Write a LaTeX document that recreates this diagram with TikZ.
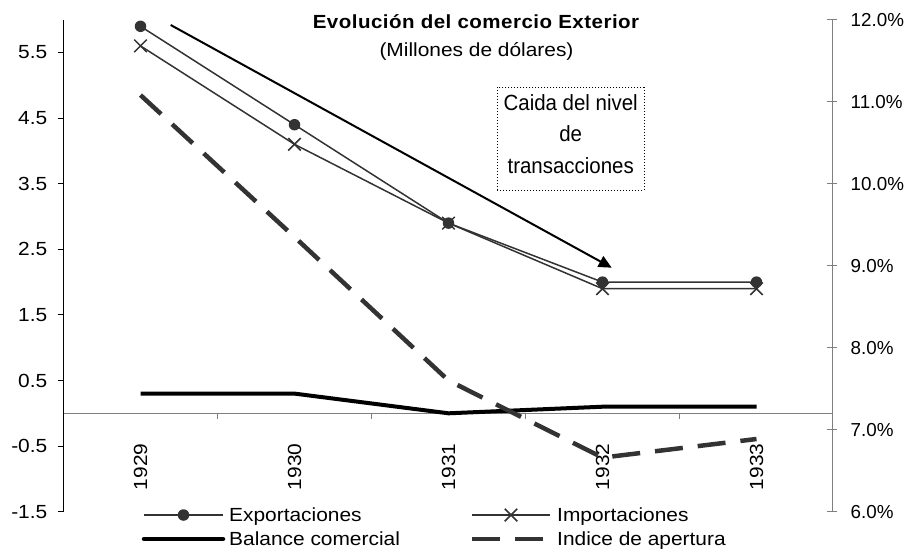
\documentclass[tikz,border=0pt]{standalone}
\usepackage{fontspec}
\setmainfont{Liberation Sans}[FakeStretch=1.1]
\newfontfamily\plainfont{Liberation Sans}
\newfontfamily\boxfont{Liberation Sans}[FakeStretch=0.93]
\newfontfamily\titlefont{Liberation Sans}[FakeStretch=1.08,LetterSpace=2.5]
\usetikzlibrary{arrows.meta,shapes.misc}
\definecolor{ser}{HTML}{333333}
\definecolor{axgray}{HTML}{7F7F7F}
\begin{document}
\begin{tikzpicture}[x=1pt,y=-1pt,
  lab/.style={font=\fontsize{19}{22}\selectfont, inner sep=0pt},
  rlab/.style={font=\plainfont\fontsize{18.8}{22}\selectfont, inner sep=0pt, anchor=west},
  axisdark/.style={draw=black, line width=1pt},
  axislight/.style={draw=axgray, line width=1pt},
  serline/.style={draw=ser, line width=1.5pt},
  balline/.style={draw=black, line width=4pt, line join=round},
  idxline/.style={draw=ser, line width=4.5pt, dash pattern=on 28pt off 15pt},
  dotmark/.style={circle, fill=ser, inner sep=0pt, minimum size=11.5pt},
  xmark/.style={cross out, draw=ser, line width=1.5pt, inner sep=0pt, minimum size=11pt},
  arrowline/.style={draw=black, line width=2pt, -{Triangle[length=13pt,width=12pt]}},
  notebox/.style={draw=black, dotted, line width=1pt, minimum width=146.7pt, minimum height=102.7pt, align=center, inner sep=0pt, font=\boxfont\fontsize{22}{31.7}\selectfont}
]
\useasboundingbox (0,0) rectangle (912,552);

% axes
\coordinate (ltop) at (63.3,19.7);
\coordinate (lbot) at (63.3,511.7);
\coordinate (xl) at (63.3,413.3);
\coordinate (xr) at (832.3,413.3);
\coordinate (rtop) at (832.3,19.7);
\coordinate (rbot) at (832.3,511.7);
\draw[axislight] (xl) -- (xr);
\draw[axisdark] (ltop) -- (lbot);
\draw[axislight] (rtop) -- (rbot);

% left ticks and labels
\foreach \v/\y/\n in {5.5/52.5/a,4.5/118.1/b,3.5/183.7/c,2.5/249.3/d,1.5/314.9/e,0.5/380.5/f,-0.5/446.1/g,-1.5/511.7/h}{
  \draw[axisdark] (57.7,\y) -- (63.3,\y);
  \node[lab, anchor=east] (yl\n) at (47.5,\y) {\v};
}
% right ticks and labels
\foreach \v/\y/\n in {12.0\%/19.7/a,11.0\%/101.7/b,10.0\%/183.7/c,9.0\%/265.7/d,8.0\%/347.7/e,7.0\%/429.7/f,6.0\%/511.7/g}{
  \draw[axislight] (827.3,\y) -- (836.7,\y);
  \node[rlab] (rl\n) at (850.5,\y) {\v};
}
% category ticks
\foreach \x in {217.5,371.5,525.5,679.5}{
  \draw[axislight] (\x,413.3) -- (\x,418.5);
}
% year labels
\foreach \yr/\x in {1929/140.5,1930/294.5,1931/448.5,1932/602.5,1933/756.5}{
  \node[lab, rotate=90, anchor=east] (yr\yr) at (\x,443.5) {\yr};
}

% data points
\coordinate (e1) at (140.5,26.3);
\coordinate (e2) at (294.5,124.7);
\coordinate (e3) at (448.5,223.1);
\coordinate (e4) at (602.5,282.1);
\coordinate (e5) at (756.5,282.1);
\coordinate (i1) at (140.5,45.9);
\coordinate (i2) at (294.5,144.3);
\coordinate (i3) at (448.5,223.1);
\coordinate (i4) at (602.5,288.7);
\coordinate (i5) at (756.5,288.7);
\coordinate (b1) at (140.5,393.6);
\coordinate (b2) at (294.5,393.6);
\coordinate (b3) at (448.5,413.3);
\coordinate (b4) at (602.5,406.7);
\coordinate (b5) at (756.5,406.7);
\coordinate (d1) at (140.5,95.1);
\coordinate (d2) at (294.5,237.0);
\coordinate (d3) at (448.5,380.5);
\coordinate (d4) at (602.5,457.6);
\coordinate (d5) at (756.5,439.0);

% series
\draw[serline] (e1) -- (e2) -- (e3) -- (e4) -- (e5);
\foreach \k in {1,...,5}{ \node[dotmark] (em\k) at (e\k) {}; }
\draw[serline] (i1) -- (i2) -- (i3) -- (i4) -- (i5);
\foreach \k in {1,...,5}{ \node[xmark] (im\k) at (i\k) {}; }
\draw[balline] (b1) -- (b2) -- (b3) -- (b4) -- (b5);
\draw[idxline] (d1) -- (d2) -- (d3) -- (d4) -- (d5);

% title
\node[inner sep=0pt, anchor=base, font=\titlefont\bfseries\fontsize{19}{22}\selectfont] (title) at (476,28.3) {Evolución del comercio Exterior};
\node[lab, anchor=base] (subtitle) at (476.5,56) {(Millones de dólares)};

% note box and arrow
\node[notebox] (note) at (570.7,138.7) {Caida del nivel\\de\\transacciones\strut};
\coordinate (a0) at (170.7,25);
\coordinate (a1) at (611.7,267.7);
\draw[arrowline] (a0) -- (a1);

% legend
\coordinate (l1a) at (144,515); \coordinate (l1b) at (223,515);
\draw[serline] (l1a) -- (l1b);
\node[dotmark] (lm1) at (183.5,515) {};
\node[lab, anchor=base west] (lt1) at (229,521.7) {Exportaciones};
\coordinate (l2a) at (472,515); \coordinate (l2b) at (550,515);
\draw[serline] (l2a) -- (l2b);
\node[xmark] (lm2) at (511,515) {};
\node[lab, anchor=base west] (lt2) at (557,521.7) {Importaciones};
\coordinate (l3a) at (144,539); \coordinate (l3b) at (223,539);
\draw[balline, line width=4.5pt, line cap=round] (l3a) -- (l3b);
\node[lab, anchor=base west] (lt3) at (229,545.7) {Balance comercial};
\coordinate (l4a) at (472,539); \coordinate (l4b) at (543,539);
\draw[idxline] (l4a) -- (l4b);
\node[lab, anchor=base west] (lt4) at (557,545.7) {Indice de apertura};
\end{tikzpicture}
\end{document}
